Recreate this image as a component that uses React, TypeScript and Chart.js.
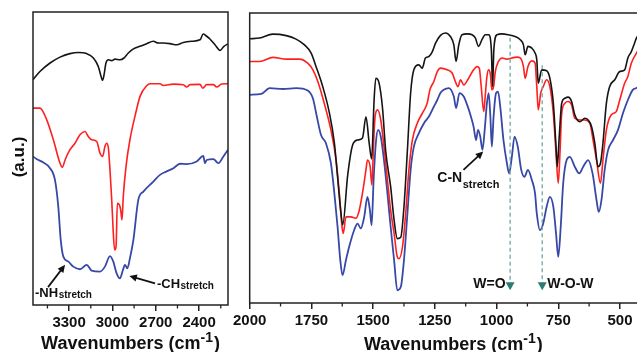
import { useEffect, useRef } from 'react';
import { Chart, registerables } from 'chart.js';

Chart.register(...registerables);

const FONT = "'Liberation Sans', Arial, Helvetica, sans-serif";
const BLACK = '#151515';
const RED = '#ff1f1f';
const BLUE = '#3748a6';
const AXIS = '#222';
const DASH = '#6fa9a4';
const MARK = '#2c7b73';

// ---------- Left panel: 3550–2200 cm-1 ----------
const leftMajorTicks = [3300, 3000, 2700, 2400];
const leftMinorTicks = [3450, 3150, 2850, 2550, 2250];

const leftBlackWn = [3550, 3502, 3432, 3363, 3294, 3236, 3178, 3132, 3098, 3075, 3068, 3058, 3045, 3028, 3005, 2982, 2948, 2920, 2890, 2855, 2809, 2763, 2717, 2682, 2648, 2602, 2555, 2509, 2452, 2394, 2371, 2352, 2325, 2290, 2255, 2228, 2200];
const leftBlackAu = [76.9, 79.7, 82.6, 84.6, 85.8, 86.2, 85.8, 84.3, 81.4, 77.4, 76.7, 78.6, 82.6, 83.7, 83.4, 83.9, 83.7, 84.3, 86, 87.4, 88.3, 89.2, 90, 89.4, 89.4, 89.2, 88.8, 89.6, 90, 90.5, 92.5, 91.9, 90.8, 88.8, 86.9, 88.3, 89.1];

const leftRedWn = [3550, 3502, 3455, 3409, 3363, 3347, 3328, 3294, 3259, 3225, 3190, 3167, 3144, 3109, 3086, 3068, 3052, 3040, 3028, 3017, 3005, 2994, 2985, 2975, 2966, 2952, 2943, 2934, 2925, 2906, 2879, 2844, 2809, 2763, 2740, 2671, 2648, 2578, 2509, 2486, 2463, 2394, 2375, 2348, 2301, 2278, 2244, 2200];
const leftRedAu = [67.2, 67.2, 63.2, 56.4, 48.4, 47, 49.5, 53, 55.2, 58.1, 59.2, 57.5, 56.4, 55.8, 51.8, 50.7, 54.1, 55.2, 53.5, 46.1, 35.9, 24.5, 18.8, 19.9, 34.7, 34.2, 32.5, 29, 37, 47.3, 56.4, 64.4, 71.2, 74.8, 75.5, 75.5, 74.9, 75.4, 75.2, 74.4, 75.2, 75.3, 74, 75.2, 75.2, 74.4, 75.4, 75.5];

const leftBlueWn = [3550, 3525, 3478, 3432, 3398, 3375, 3358, 3340, 3305, 3271, 3225, 3178, 3144, 3086, 3052, 3017, 2994, 2971, 2948, 2929, 2913, 2897, 2879, 2855, 2821, 2786, 2717, 2671, 2625, 2578, 2532, 2486, 2417, 2371, 2359, 2348, 2301, 2267, 2232, 2200];
const leftBlueAu = [50.7, 49.8, 48.6, 46.7, 42.7, 33.6, 22.2, 16.5, 14.8, 13.1, 12.2, 13.7, 11.7, 11.4, 13.1, 16.7, 14.8, 10.8, 9.1, 11.7, 13.7, 12.5, 15.9, 22.2, 35.9, 38.7, 42.1, 44.4, 45.6, 46.7, 48.2, 48.1, 49, 50.9, 48.4, 49.5, 49.8, 48.4, 50.7, 53];

// ---------- Right panel: 2000–350 cm-1 ----------
const rightMajorTicks = [2000, 1750, 1500, 1250, 1000, 750, 500];
const rightMinorTicks = [1875, 1625, 1375, 1125, 875, 625, 375];

const rightBlackWn = [2000, 1960, 1906, 1852, 1812, 1778, 1751, 1731, 1704, 1677, 1657, 1644, 1633, 1623, 1603, 1583, 1563, 1543, 1529, 1516, 1506, 1496, 1489, 1476, 1462, 1449, 1429, 1415, 1402, 1388, 1375, 1361, 1348, 1335, 1315, 1301, 1288, 1274, 1260, 1247, 1227, 1207, 1187, 1173, 1164, 1153, 1140, 1119, 1099, 1086, 1073, 1059, 1046, 1032, 1021, 1016, 1011, 998, 978, 952, 925, 904, 891, 884, 873, 857, 844, 837, 831, 817, 797, 784, 770, 759, 754, 746, 736, 723, 710, 696, 683, 663, 642, 629, 615, 602, 589, 579, 569, 555, 542, 521, 501, 481, 468, 454, 441, 433, 420];
const rightBlackAu = [91.1, 91.4, 92.7, 92.2, 91, 89, 86.2, 81.5, 74.6, 65.5, 55.2, 43.5, 33.2, 27, 44.1, 54.5, 56.2, 56.9, 64.2, 55.2, 49.7, 70, 77.5, 75.9, 67.3, 52.4, 40.1, 28.6, 22.2, 22.7, 33.2, 52.8, 72.4, 80.4, 82.1, 81, 84.5, 85, 86.7, 89.6, 92.3, 93.1, 91.9, 89, 83.3, 89, 92.5, 92.8, 92.5, 91.4, 88.5, 90.8, 92.5, 92.5, 87.3, 74.6, 87.3, 92.5, 92.8, 92.5, 91.9, 90.8, 89, 85.6, 88.5, 87.9, 86.2, 83.9, 75.8, 80.4, 80.1, 77.5, 68.9, 53.9, 47, 57.4, 68.9, 70.6, 71, 69.5, 64.9, 62.5, 63.7, 63.1, 60.8, 55.1, 47, 48.2, 55.1, 68.9, 74.6, 77, 79.8, 80.4, 84.5, 86.7, 89.6, 91.4, 93];

const rightRedWn = [2000, 1960, 1906, 1852, 1798, 1765, 1744, 1724, 1698, 1671, 1650, 1637, 1626, 1621, 1610, 1590, 1570, 1556, 1543, 1529, 1523, 1512, 1505, 1498, 1492, 1482, 1469, 1456, 1442, 1429, 1415, 1402, 1395, 1381, 1368, 1355, 1341, 1321, 1301, 1281, 1270, 1254, 1240, 1227, 1200, 1180, 1167, 1156, 1146, 1133, 1113, 1093, 1079, 1070, 1062, 1052, 1046, 1039, 1032, 1025, 1019, 1012, 1005, 992, 978, 958, 938, 918, 904, 891, 884, 873, 857, 844, 837, 831, 821, 811, 797, 784, 770, 759, 750, 743, 736, 723, 710, 696, 683, 663, 642, 622, 609, 595, 579, 569, 555, 535, 515, 501, 481, 468, 454, 433, 420];
const rightRedAu = [83.3, 83.3, 84.7, 84.1, 84.1, 82.7, 80.4, 76.4, 68.9, 59.7, 49.3, 37.9, 26.3, 24, 29.7, 29.7, 29.2, 32, 37.9, 45.9, 49.3, 47, 40.7, 55.2, 64.3, 66.6, 63.1, 53.9, 42.4, 32, 24, 15.9, 15.3, 19.4, 30.9, 45.9, 56.2, 62, 65.4, 68.9, 73.5, 76.4, 79.8, 81, 80.4, 79.3, 76.4, 74.6, 77, 75.2, 77.5, 80.4, 81.5, 81, 74.6, 66, 71.2, 78.1, 80.4, 78.8, 73.5, 74.6, 79.8, 83.3, 84.5, 84.1, 84.5, 84.8, 84.5, 81.5, 77.5, 81.5, 83.5, 82.8, 74.6, 66.6, 72.4, 74.6, 77, 74.6, 65.4, 51.7, 41.3, 51.7, 65.4, 68.9, 69.5, 68.3, 63.7, 63.1, 63.1, 62, 56.2, 49.3, 41.3, 49.3, 59.7, 64.9, 66, 70, 75.8, 78.1, 82.7, 86.2, 88];

const rightBlueWn = [2000, 1953, 1919, 1865, 1812, 1765, 1744, 1728, 1711, 1691, 1671, 1657, 1644, 1633, 1624, 1610, 1597, 1577, 1563, 1550, 1536, 1523, 1513, 1506, 1498, 1489, 1480, 1469, 1456, 1442, 1429, 1415, 1402, 1388, 1375, 1361, 1348, 1335, 1315, 1294, 1274, 1254, 1240, 1227, 1214, 1194, 1173, 1164, 1150, 1133, 1119, 1106, 1093, 1083, 1075, 1066, 1057, 1048, 1039, 1032, 1025, 1019, 1012, 1002, 994, 985, 972, 958, 949, 938, 927, 914, 900, 887, 873, 857, 844, 837, 824, 811, 797, 784, 770, 759, 750, 740, 730, 716, 703, 683, 665, 649, 629, 611, 595, 586, 575, 562, 548, 528, 508, 488, 468, 448, 433, 420];
const rightBlueAu = [71.8, 72.1, 74.1, 73.8, 74.1, 73.3, 70.6, 64.3, 57.9, 55.1, 48.2, 37.8, 26.3, 14.8, 9.6, 14.8, 19.4, 25.1, 27.4, 25.7, 29.7, 36.6, 32, 26.8, 42.4, 55.1, 59.7, 57.4, 49.3, 37.8, 26.3, 14.8, 4.4, 5.5, 14.8, 30.9, 45.9, 53.9, 58.5, 62, 64.3, 67.7, 70, 72.5, 73.5, 74.1, 71.2, 67.2, 72.4, 71.2, 68.3, 64.9, 60.8, 56.2, 59.7, 57.4, 52.8, 59.7, 68.9, 72.4, 64.3, 53.9, 64.3, 72.4, 72.9, 67.7, 56.2, 48.2, 44.7, 50.4, 57.4, 53.9, 45.9, 43.5, 45.9, 42.4, 37.8, 30.9, 25.1, 27.4, 33.2, 36.6, 33.2, 24, 15.9, 26.3, 41.3, 49.3, 50.4, 47, 44.7, 47, 49.3, 44.7, 35.5, 31.4, 35.5, 45.9, 52.8, 56.2, 59.7, 65.4, 70, 73.5, 74.1, 75];

// Annotation anchors (wavenumber, a.u.)
const nhArrow = { from: [3446, 6.1], to: [3328, 13.7] };
const nhLabel = { at: [3536, 2.6], main: '-NH', sub: 'stretch' };
const chArrow = { from: [2705, 7.4], to: [2883, 9.9] };
const chLabel = { at: [2692, 5.8], main: '-CH', sub: 'stretch' };
const cnArrow = { from: [1134, 45.9], to: [1054, 52.2] };
const cnLabel = { at: [1240, 41.7], main: 'C-N', sub: 'stretch' };
const bandMarks = [
  { wn: 945, top: 91.5, label: 'W=O', side: 'left' },
  { wn: 815, top: 82, label: 'W-O-W', side: 'right' },
];
const markTip = 4.4;
const markLabelAu = 5.1;

const toPoints = (xs: number[], ys: number[]) => xs.map((x, i) => ({ x, y: ys[i] }));

const ds = (xs: number[], ys: number[], color: string, width: number) => ({
  data: toPoints(xs, ys),
  borderColor: color,
  backgroundColor: color,
  borderWidth: width,
  pointRadius: 0,
  fill: false,
  cubicInterpolationMode: 'monotone' as const,
});

function drawTitle(ctx: CanvasRenderingContext2D, cx: number, baseline: number) {
  const main = 'Wavenumbers (cm';
  const sup = '-1';
  const close = ')';
  ctx.save();
  ctx.fillStyle = '#111';
  ctx.textAlign = 'left';
  ctx.textBaseline = 'alphabetic';
  ctx.font = `bold 18px ${FONT}`;
  const w1 = ctx.measureText(main).width;
  const w3 = ctx.measureText(close).width;
  ctx.font = `bold 14px ${FONT}`;
  const w2 = ctx.measureText(sup).width;
  let x = cx - (w1 + w2 + w3 + 1) / 2;
  ctx.font = `bold 18px ${FONT}`;
  ctx.fillText(main, x, baseline);
  x += w1;
  ctx.font = `bold 14px ${FONT}`;
  ctx.fillText(sup, x, baseline - 7);
  x += w2 + 1;
  ctx.font = `bold 18px ${FONT}`;
  ctx.fillText(close, x, baseline);
  ctx.restore();
}

function drawArrow(ctx: CanvasRenderingContext2D, x1: number, y1: number, x2: number, y2: number) {
  const ang = Math.atan2(y2 - y1, x2 - x1);
  const hl = 7.5;
  const hw = 3.6;
  ctx.save();
  ctx.strokeStyle = '#111';
  ctx.fillStyle = '#111';
  ctx.lineWidth = 1.7;
  ctx.beginPath();
  ctx.moveTo(x1, y1);
  ctx.lineTo(x2 - hl * 0.8 * Math.cos(ang), y2 - hl * 0.8 * Math.sin(ang));
  ctx.stroke();
  ctx.beginPath();
  ctx.moveTo(x2, y2);
  ctx.lineTo(x2 - hl * Math.cos(ang) + hw * Math.sin(ang), y2 - hl * Math.sin(ang) - hw * Math.cos(ang));
  ctx.lineTo(x2 - hl * Math.cos(ang) - hw * Math.sin(ang), y2 - hl * Math.sin(ang) + hw * Math.cos(ang));
  ctx.closePath();
  ctx.fill();
  ctx.restore();
}

function drawSubLabel(
  ctx: CanvasRenderingContext2D, main: string, sub: string, x: number, y: number,
  mainSize: number, subSize: number, drop: number,
) {
  ctx.save();
  ctx.fillStyle = '#111';
  ctx.textAlign = 'left';
  ctx.textBaseline = 'alphabetic';
  ctx.font = `bold ${mainSize}px ${FONT}`;
  ctx.fillText(main, x, y);
  const w = ctx.measureText(main).width;
  ctx.font = `bold ${subSize}px ${FONT}`;
  ctx.fillText(sub, x + w + 0.5, y + drop);
  ctx.restore();
}

function drawFrameAndMinor(chart: any, minor: number[]) {
  const { ctx, chartArea } = chart;
  const xs = chart.scales.x;
  ctx.save();
  ctx.strokeStyle = AXIS;
  ctx.lineWidth = 1.5;
  ctx.strokeRect(chartArea.left, chartArea.top, chartArea.right - chartArea.left, chartArea.bottom - chartArea.top);
  ctx.lineWidth = 1.3;
  ctx.beginPath();
  for (const v of minor) {
    const px = xs.getPixelForValue(v);
    if (px < chartArea.left || px > chartArea.right) continue;
    ctx.moveTo(px, chartArea.bottom);
    ctx.lineTo(px, chartArea.bottom + 3.5);
  }
  ctx.stroke();
  ctx.restore();
}

const leftDecor = {
  id: 'leftDecor',
  afterDraw(chart: any) {
    const { ctx, chartArea } = chart;
    const xs = chart.scales.x;
    const ys = chart.scales.y;
    const P = (p: number[]) => [xs.getPixelForValue(p[0]), ys.getPixelForValue(p[1])];
    drawFrameAndMinor(chart, leftMinorTicks);
    drawTitle(ctx, (chartArea.left + chartArea.right) / 2, 349);
    ctx.save();
    ctx.translate(19, 157);
    ctx.rotate(-Math.PI / 2);
    ctx.fillStyle = '#111';
    ctx.textAlign = 'center';
    ctx.textBaseline = 'middle';
    ctx.font = `bold 17px ${FONT}`;
    ctx.fillText('(a.u.)', 0, 0);
    ctx.restore();
    const [a1, b1] = P(nhArrow.from);
    const [a2, b2] = P(nhArrow.to);
    drawArrow(ctx, a1, b1, a2, b2);
    const [nx, ny] = P(nhLabel.at);
    drawSubLabel(ctx, nhLabel.main, nhLabel.sub, nx, ny, 13, 10, 0.5);
    const [c1, d1] = P(chArrow.from);
    const [c2, d2] = P(chArrow.to);
    drawArrow(ctx, c1, d1, c2, d2);
    const [cx, cy] = P(chLabel.at);
    drawSubLabel(ctx, chLabel.main, chLabel.sub, cx, cy, 13, 10, 0.5);
  },
};

const rightDecor = {
  id: 'rightDecor',
  afterDraw(chart: any) {
    const { ctx, chartArea } = chart;
    const xs = chart.scales.x;
    const ys = chart.scales.y;
    const P = (p: number[]) => [xs.getPixelForValue(p[0]), ys.getPixelForValue(p[1])];
    drawFrameAndMinor(chart, rightMinorTicks);
    drawTitle(ctx, (chartArea.left + chartArea.right) / 2, 350);
    for (const m of bandMarks) {
      const px = xs.getPixelForValue(m.wn);
      const tip = ys.getPixelForValue(markTip);
      ctx.save();
      ctx.strokeStyle = DASH;
      ctx.lineWidth = 1.3;
      ctx.setLineDash([4, 3]);
      ctx.beginPath();
      ctx.moveTo(px, ys.getPixelForValue(m.top));
      ctx.lineTo(px, tip - 7);
      ctx.stroke();
      ctx.setLineDash([]);
      ctx.fillStyle = MARK;
      ctx.beginPath();
      ctx.moveTo(px, tip);
      ctx.lineTo(px - 4.5, tip - 8);
      ctx.lineTo(px + 4.5, tip - 8);
      ctx.closePath();
      ctx.fill();
      ctx.fillStyle = '#111';
      ctx.font = `bold 14px ${FONT}`;
      ctx.textBaseline = 'alphabetic';
      const ly = ys.getPixelForValue(markLabelAu);
      if (m.side === 'left') {
        ctx.textAlign = 'right';
        ctx.fillText(m.label, px - 4.5, ly);
      } else {
        ctx.textAlign = 'left';
        ctx.fillText(m.label, px + 5, ly);
      }
      ctx.restore();
    }
    const [a1, b1] = P(cnArrow.from);
    const [a2, b2] = P(cnArrow.to);
    drawArrow(ctx, a1, b1, a2, b2);
    const [lx, ly] = P(cnLabel.at);
    drawSubLabel(ctx, cnLabel.main, cnLabel.sub, lx, ly, 14, 11, 6);
  },
};

const tickFont = { family: FONT, size: 15, weight: 'bold' as const };

function makeXScale(min: number, max: number, majors: number[], height: number) {
  return {
    type: 'linear' as const,
    reverse: true,
    min,
    max,
    afterBuildTicks: (s: any) => {
      s.ticks = majors.map((v) => ({ value: v }));
    },
    afterFit: (s: any) => {
      s.height = height;
    },
    ticks: {
      font: tickFont,
      color: '#111',
      padding: 3,
      maxRotation: 0,
      minRotation: 0,
      autoSkip: false,
      callback: (v: any) => String(v),
    },
    grid: {
      drawOnChartArea: false,
      drawTicks: true,
      tickLength: 6,
      color: AXIS,
      lineWidth: 1.5,
    },
    border: { display: false },
  };
}

export default function App() {
  const leftRef = useRef<HTMLCanvasElement>(null);
  const rightRef = useRef<HTMLCanvasElement>(null);

  useEffect(() => {
    const left = new Chart(leftRef.current!, {
      type: 'line',
      data: {
        datasets: [
          ds(leftBlackWn, leftBlackAu, BLACK, 1.6),
          ds(leftRedWn, leftRedAu, RED, 1.6),
          ds(leftBlueWn, leftBlueAu, BLUE, 1.8),
        ],
      },
      options: {
        responsive: false,
        animation: false,
        devicePixelRatio: 1,
        layout: { padding: { left: 33, top: 12, right: 12, bottom: 0 } },
        plugins: { legend: { display: false }, tooltip: { enabled: false } },
        scales: {
          x: makeXScale(2200, 3550, leftMajorTicks, 47) as any,
          y: { display: false, min: 0, max: 100 },
        },
      },
      plugins: [leftDecor],
    });

    const right = new Chart(rightRef.current!, {
      type: 'line',
      data: {
        datasets: [
          ds(rightBlackWn, rightBlackAu, BLACK, 1.6),
          ds(rightRedWn, rightRedAu, RED, 1.6),
          ds(rightBlueWn, rightBlueAu, BLUE, 1.8),
        ],
      },
      options: {
        responsive: false,
        animation: false,
        devicePixelRatio: 1,
        layout: { padding: { left: 18, top: 13, right: 13, bottom: 0 } },
        plugins: { legend: { display: false }, tooltip: { enabled: false } },
        scales: {
          x: makeXScale(350, 2000, rightMajorTicks, 49) as any,
          y: { display: false, min: 0, max: 100 },
        },
      },
      plugins: [rightDecor],
    });

    return () => {
      left.destroy();
      right.destroy();
    };
  }, []);

  return (
    <div
      style={{
        position: 'fixed',
        left: 0,
        top: 0,
        width: 637,
        height: 352,
        overflow: 'hidden',
        background: '#fff',
      }}
    >
      <canvas
        ref={leftRef}
        width={240}
        height={352}
        style={{ position: 'absolute', left: 0, top: 0, width: 240, height: 352 }}
      />
      <canvas
        ref={rightRef}
        width={440}
        height={352}
        style={{ position: 'absolute', left: 230, top: 0, width: 440, height: 352 }}
      />
    </div>
  );
}
